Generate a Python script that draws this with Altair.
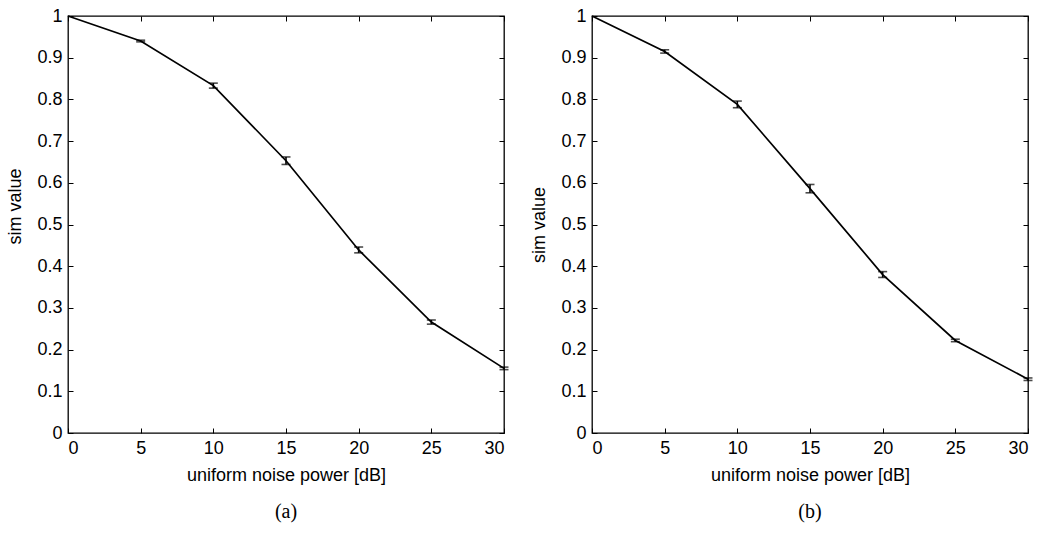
import altair as alt
import pandas as pd

# ---- data ----
noise_db = [0, 5, 10, 15, 20, 25, 30]
sim_a = [1.0, 0.940, 0.833, 0.653, 0.439, 0.266, 0.155]
err_a = [0.0, 0.002, 0.006, 0.009, 0.007, 0.005, 0.003]
sim_b = [1.0, 0.915, 0.788, 0.586, 0.380, 0.222, 0.129]
err_b = [0.0, 0.004, 0.008, 0.010, 0.007, 0.003, 0.003]

x_ticks = [0, 5, 10, 15, 20, 25, 30]
y_ticks = [0, 0.1, 0.2, 0.3, 0.4, 0.5, 0.6, 0.7, 0.8, 0.9, 1]
captions = ["(a)", "(b)"]

SANS = "Liberation Sans"
SERIF = "Liberation Serif"
FS = 18
TICK = 5


def panel(sim, err, caption, title_y=None):
    df = pd.DataFrame({"x": noise_db, "y": sim, "e": err})
    df["lo"] = df["y"] - df["e"]
    df["hi"] = df["y"] + df["e"]
    df_err = df[df["x"] > 0]

    xs = alt.Scale(domain=[0, 30], nice=False, zero=False)
    ys = alt.Scale(domain=[0, 1], nice=False, zero=False)

    common = dict(offset=-TICK, tickSize=TICK, domain=False, grid=False,
                  tickColor="black", tickWidth=1)

    y_extra = {} if title_y is None else {"titleY": title_y}

    line = alt.Chart(df).mark_line(color="black", strokeWidth=1.7).encode(
        x=alt.X("x:Q", scale=xs, title="uniform noise power [dB]",
                axis=alt.Axis(values=x_ticks, format="d", orient="bottom",
                              labelFont=SANS, labelFontSize=FS, labelColor="black",
                              labelPadding=6, titleFont=SANS, titleFontSize=FS,
                              titleFontWeight="normal", titleColor="black",
                              titlePadding=9, **common)),
        y=alt.Y("y:Q", scale=ys, title="sim value",
                axis=alt.Axis(values=y_ticks, format="~g", orient="left",
                              labelFont=SANS, labelFontSize=FS, labelColor="black",
                              labelPadding=6, titleFont=SANS, titleFontSize=FS,
                              titleFontWeight="normal", titleColor="black",
                              titlePadding=12, **y_extra, **common)),
    )

    bars = alt.Chart(df_err).mark_rule(color="black", strokeWidth=1.6).encode(
        x=alt.X("x:Q", scale=xs,
                axis=alt.Axis(values=x_ticks, orient="top", labels=False,
                              title=None, **common)),
        y=alt.Y("lo:Q", scale=ys,
                axis=alt.Axis(values=y_ticks, orient="right", labels=False,
                              title=None, **common)),
        y2="hi:Q",
    )

    caps_lo = alt.Chart(df_err).mark_tick(color="black", orient="horizontal",
                                          size=9, thickness=1.6).encode(
        x=alt.X("x:Q", scale=xs, axis=None),
        y=alt.Y("lo:Q", scale=ys, axis=None),
    )
    caps_hi = alt.Chart(df_err).mark_tick(color="black", orient="horizontal",
                                          size=9, thickness=1.6).encode(
        x=alt.X("x:Q", scale=xs, axis=None),
        y=alt.Y("hi:Q", scale=ys, axis=None),
    )

    return alt.layer(line, bars, caps_lo, caps_hi).resolve_axis(
        x="independent", y="independent"
    ).properties(
        width=436, height=417,
        title=alt.TitleParams(caption, orient="bottom", font=SERIF, fontSize=20,
                              fontWeight="normal", color="black", offset=18),
    )


chart = alt.hconcat(
    panel(sim_a, err_a, captions[0], title_y=190),
    panel(sim_b, err_b, captions[1]),
    spacing=20,
).properties(
    padding={"left": 6, "top": 6, "right": 5, "bottom": 5},
    background="white",
).configure_view(stroke="black", strokeWidth=1.3)

chart.save("out.html", embed_options={"renderer": "svg", "actions": False})
